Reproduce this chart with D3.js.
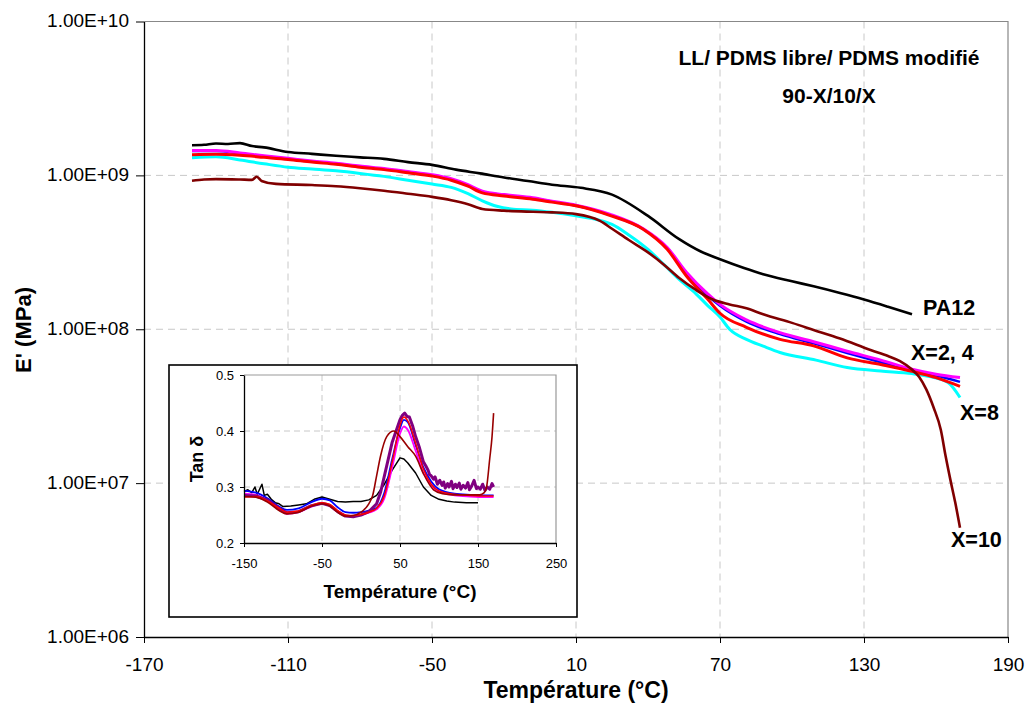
<!DOCTYPE html>
<html><head><meta charset="utf-8">
<script src="https://cdn.jsdelivr.net/npm/d3@7"></script>
<style>body{margin:0;background:#fff} svg{display:block;font-family:"Liberation Sans",Arial,sans-serif}</style>
</head><body><svg id="c" width="1026" height="704"></svg>
<script>
// ---------- main chart data (Temperature °C, E') ----------
const xTicks = [-170,-110,-50,10,70,130,190];
const yTicks = [1e6,1e7,1e8,1e9,1e10];
const yTickLabels = ["1.00E+06","1.00E+07","1.00E+08","1.00E+09","1.00E+10"];

const tBlack = [-150,-145,-140,-135,-130,-125,-120,-110,-100,-90,-80,-70,-60,-50,-40,-30,-20,-10,0,12,25,40,53,62,70,80,88,100,109,120,130,140,150];
const vBlack = [1.57e9,1.58e9,1.61e9,1.60e9,1.62e9,1.55e9,1.52e9,1.42e9,1.38e9,1.34e9,1.31e9,1.28e9,1.22e9,1.17e9,1.09e9,1.03e9,9.7e8,9.2e8,8.7e8,8.3e8,7.5e8,5.45e8,3.85e8,3.2e8,2.85e8,2.5e8,2.28e8,2.05e8,1.9e8,1.72e8,1.56e8,1.4e8,1.25e8];

const tX24 = [-150,-140,-130,-120,-110,-100,-90,-80,-70,-60,-50,-42,-35,-29,-20,-8,0,10,24,38,48,56,65,70,81,95,109,123,137,150,160,170];
const vRed = [1.36e9,1.37e9,1.35e9,1.31e9,1.27e9,1.22e9,1.18e9,1.13e9,1.09e9,1.04e9,9.9e8,9.3e8,8.5e8,7.7e8,7.35e8,7.0e8,6.7e8,6.34e8,5.5e8,4.47e8,3.31e8,2.22e8,1.56e8,1.27e8,1.03e8,8.6e7,7.8e7,6.52e7,5.9e7,5.33e7,4.85e7,4.26e7];
const vMagenta = [1.45e9,1.45e9,1.40e9,1.34e9,1.29e9,1.24e9,1.20e9,1.15e9,1.11e9,1.06e9,1.01e9,9.5e8,8.7e8,7.9e8,7.5e8,7.15e8,6.8e8,6.4e8,5.6e8,4.5e8,3.4e8,2.35e8,1.69e8,1.45e8,1.15e8,9.5e7,8.3e7,7.2e7,6.3e7,5.5e7,5.1e7,4.85e7];
const vBlue = [1.44e9,1.44e9,1.39e9,1.33e9,1.28e9,1.23e9,1.19e9,1.14e9,1.10e9,1.05e9,1.0e9,9.4e8,8.6e8,7.8e8,7.45e8,7.1e8,6.75e8,6.37e8,5.55e8,4.48e8,3.37e8,2.3e8,1.65e8,1.42e8,1.12e8,9.3e7,8.1e7,7.0e7,6.1e7,5.4e7,5.0e7,4.55e7];

const tCyan = [-150,-140,-130,-120,-110,-100,-90,-80,-70,-60,-50,-42,-35,-29,-23,-17,-8,0,10,20,25,32,40,47,53,60,65,70,74,81,88,95,110,123,137,150,158,165,170];
const vCyan = [1.30e9,1.32e9,1.26e9,1.19e9,1.13e9,1.10e9,1.07e9,1.03e9,9.85e8,9.3e8,8.78e8,8.35e8,7.6e8,6.84e8,6.3e8,6.05e8,5.94e8,5.75e8,5.46e8,5.1e8,4.8e8,4.1e8,3.3e8,2.6e8,2.11e8,1.7e8,1.42e8,1.2e8,1.0e8,8.59e7,7.76e7,7.06e7,6.3e7,5.64e7,5.35e7,5.15e7,4.9e7,4.5e7,3.6e7];

const tX10 = [-150,-145,-140,-130,-125,-123,-121,-115,-100,-90,-80,-70,-60,-50,-42,-35,-29,-20,-8,0,10,20,25,32,40,47,53,60,67,74,81,88,100,109,120,133,140,145,150,153,156,159,162,164,166,168,170];
const vX10 = [9.23e8,9.4e8,9.46e8,9.4e8,9.35e8,9.8e8,9.2e8,8.8e8,8.65e8,8.5e8,8.25e8,7.95e8,7.6e8,7.25e8,6.9e8,6.5e8,6.05e8,5.9e8,5.8e8,5.75e8,5.6e8,5.06e8,4.5e8,3.8e8,3.16e8,2.6e8,2.15e8,1.8e8,1.56e8,1.45e8,1.37e8,1.25e8,1.1e8,9.9e7,8.7e7,7.3e7,6.7e7,6.2e7,5.47e7,4.9e7,4.05e7,3.1e7,2.22e7,1.5e7,1.05e7,7.5e6,5.13e6];

// ---------- inset data (Temperature °C, tan delta) ----------
const xiTicks = [-150,-50,50,150,250];
const yiTicks = [0.2,0.3,0.4,0.5];
const yiTickLabels = ["0.2","0.3","0.4","0.5"];

const tiBlack = [-150,-145,-140,-136,-133,-130,-127,-124,-120,-115,-110,-105,-100,-90,-80,-70,-60,-50,-40,-30,-20,-10,0,10,20,30,40,50,55,60,70,80,90,100,110,120,135,150];
const viBlack = [0.292,0.295,0.29,0.3,0.287,0.296,0.305,0.285,0.287,0.278,0.272,0.27,0.265,0.266,0.268,0.27,0.278,0.282,0.278,0.274,0.273,0.274,0.274,0.277,0.285,0.305,0.33,0.352,0.35,0.343,0.325,0.3,0.285,0.278,0.275,0.273,0.272,0.272];
const tiCommon = [-150,-135,-120,-105,-95,-80,-65,-50,-40,-30,-20,-10,0,10,20,30,40,50,55,60,70,80,90,100,120,140,160,170];
const viBlue = [0.293,0.29,0.28,0.265,0.259,0.262,0.272,0.279,0.276,0.264,0.255,0.254,0.255,0.258,0.263,0.29,0.35,0.405,0.42,0.416,0.375,0.335,0.31,0.296,0.288,0.286,0.285,0.285];
const viMagenta = [0.288,0.286,0.276,0.26,0.252,0.255,0.264,0.27,0.267,0.257,0.249,0.248,0.25,0.254,0.26,0.28,0.335,0.395,0.408,0.402,0.365,0.325,0.303,0.292,0.285,0.283,0.282,0.282];
const viRed = [0.282,0.283,0.275,0.262,0.255,0.257,0.266,0.272,0.269,0.258,0.25,0.249,0.251,0.255,0.262,0.285,0.345,0.41,0.425,0.418,0.378,0.332,0.305,0.293,0.287,0.285,0.284,0.284];
const tiPurple = [-150,-135,-120,-105,-95,-80,-65,-50,-40,-30,-20,-10,0,10,20,25,30,40,50,53,56,59,62,66,70,75,80,83,86,88,90,93,95,98,101,104,106,108,111,113,116,118,121,123,126,128,131,134,137,139,142,145,148,150,153,156,159,162,165,168,170];
const viPurple = [0.285,0.284,0.277,0.262,0.254,0.256,0.266,0.271,0.267,0.256,0.248,0.247,0.25,0.256,0.27,0.29,0.32,0.38,0.42,0.428,0.432,0.426,0.425,0.41,0.39,0.37,0.345,0.338,0.33,0.322,0.32,0.314,0.318,0.305,0.312,0.303,0.309,0.298,0.306,0.3,0.31,0.297,0.305,0.299,0.307,0.296,0.303,0.298,0.308,0.295,0.302,0.312,0.297,0.3,0.296,0.305,0.294,0.3,0.296,0.306,0.3];
const tiDark = [-150,-135,-120,-105,-95,-80,-65,-50,-40,-30,-20,-10,0,10,15,20,25,33,42,50,60,70,80,93,105,118,135,152,158,161,165,168,170];
const viDark = [0.283,0.282,0.273,0.258,0.252,0.255,0.265,0.27,0.266,0.255,0.248,0.249,0.255,0.27,0.285,0.32,0.355,0.39,0.4,0.39,0.372,0.355,0.324,0.295,0.288,0.286,0.286,0.286,0.29,0.3,0.35,0.39,0.432];

const zip = (t,v) => t.map((d,i)=>[d,v[i]]);

const mainSeries = [
  {t:tBlack, v:vBlack, c:"#000000", w:2.6},
  {t:tCyan, v:vCyan, c:"#00FFFF", w:3},
  {t:tX24, v:vBlue, c:"#0000FF", w:2.5},
  {t:tX24, v:vMagenta, c:"#FF00FF", w:3},
  {t:tX24, v:vRed, c:"#FF0000", w:3},
  {t:tX10, v:vX10, c:"#800000", w:2.6}
];
const insetSeries = [
  {t:tiBlack, v:viBlack, c:"#000000", w:1.5, lin:true},
  {t:tiCommon, v:viBlue, c:"#0000FF", w:1.8},
  {t:tiCommon, v:viMagenta, c:"#FF00FF", w:1.8},
  {t:tiPurple, v:viPurple, c:"#800080", w:3, lin:true},
  {t:tiCommon, v:viRed, c:"#FF0000", w:1.5},
  {t:tiDark, v:viDark, c:"#990000", w:1.6}
];

const svg = d3.select("#c");
svg.append("rect").attr("width",1026).attr("height",704).attr("fill","#fff");

const x = d3.scaleLinear().domain([-170,190]).range([144,1008]);
const y = d3.scaleLog().domain([1e6,1e10]).range([637,21.5]);

const grid = svg.append("g");
grid.selectAll("line.v").data(xTicks.slice(1,-1)).join("line")
  .attr("x1",d=>x(d)).attr("x2",d=>x(d)).attr("y1",y(1e10)).attr("y2",y(1e6))
  .attr("stroke","#c8c8c8").attr("stroke-dasharray","7,5");
grid.selectAll("line.h").data(yTicks.slice(1,-1)).join("line")
  .attr("x1",x(-170)).attr("x2",x(190)).attr("y1",d=>y(d)).attr("y2",d=>y(d))
  .attr("stroke","#c8c8c8").attr("stroke-dasharray","7,5");
svg.append("path").attr("d",`M${x(-170)},${y(1e10)}H${x(190)}V${y(1e6)}`)
  .attr("fill","none").attr("stroke","#888").attr("stroke-width",1.2);

const line = d3.line().x(d=>x(d[0])).y(d=>y(d[1])).curve(d3.curveMonotoneX);
svg.append("g").selectAll("path").data(mainSeries).join("path")
  .attr("d",s=>line(zip(s.t,s.v))).attr("fill","none")
  .attr("stroke",s=>s.c).attr("stroke-width",s=>s.w).attr("stroke-linejoin","round");

const xa = svg.append("g").attr("transform",`translate(0,${y(1e6)})`)
  .call(d3.axisBottom(x).tickValues(xTicks).tickSize(6).tickSizeOuter(0).tickFormat(d=>String(d)));
xa.selectAll("text").attr("y",34).attr("dy",0).attr("font-size",19).attr("fill","#000")
  .attr("font-family","'Liberation Sans',Arial,sans-serif");
const ya = svg.append("g").attr("transform",`translate(${x(-170)},0)`)
  .call(d3.axisLeft(y).tickValues(yTicks).tickSize(8).tickSizeOuter(0).tickFormat((d,i)=>yTickLabels[i]));
ya.selectAll("text").attr("x",-15).attr("dy","0.28em").attr("font-size",19).attr("fill","#000")
  .attr("font-family","'Liberation Sans',Arial,sans-serif");
[xa,ya].forEach(g=>{g.select(".domain").attr("stroke","#000").attr("stroke-width",1.3);
  g.selectAll(".tick line").attr("stroke","#000");});

svg.append("text").attr("x",576).attr("y",698).attr("text-anchor","middle")
  .attr("font-size",23).attr("font-weight","bold").text("Température (°C)");
svg.append("text").attr("transform","translate(31,330) rotate(-90)").attr("text-anchor","middle")
  .attr("font-size",22).attr("font-weight","bold").text("E' (MPa)");

svg.append("text").attr("x",829).attr("y",65).attr("text-anchor","middle")
  .attr("font-size",21).attr("font-weight","bold").text("LL/ PDMS libre/ PDMS modifié");
svg.append("text").attr("x",829).attr("y",103).attr("text-anchor","middle")
  .attr("font-size",21).attr("font-weight","bold").text("90-X/10/X");
const labs = [["PA12",923,315],["X=2, 4",911,360],["X=8",960,420],["X=10",951,547]];
svg.append("g").selectAll("text").data(labs).join("text")
  .attr("x",d=>d[1]).attr("y",d=>d[2]).attr("font-size",21.5).attr("font-weight","bold").text(d=>d[0]);

// ---------- inset ----------
svg.append("rect").attr("x",169).attr("y",365).attr("width",408).attr("height",252)
  .attr("fill","#fff").attr("stroke","#000").attr("stroke-width",1.6);
const xi = d3.scaleLinear().domain([-150,250]).range([244,556]);
const yi = d3.scaleLinear().domain([0.2,0.5]).range([543,375]);
const gi = svg.append("g");
gi.selectAll("line.v").data(xiTicks.slice(1,-1)).join("line")
  .attr("x1",d=>xi(d)).attr("x2",d=>xi(d)).attr("y1",yi(0.5)).attr("y2",yi(0.2))
  .attr("stroke","#c8c8c8").attr("stroke-dasharray","6,4");
gi.selectAll("line.h").data(yiTicks.slice(1,-1)).join("line")
  .attr("x1",xi(-150)).attr("x2",xi(250)).attr("y1",d=>yi(d)).attr("y2",d=>yi(d))
  .attr("stroke","#c8c8c8").attr("stroke-dasharray","6,4");
gi.append("path").attr("d",`M${xi(-150)},${yi(0.5)}H${xi(250)}V${yi(0.2)}`)
  .attr("fill","none").attr("stroke","#999").attr("stroke-width",1.2);
const lineS = d3.line().x(d=>xi(d[0])).y(d=>yi(d[1])).curve(d3.curveMonotoneX);
const lineL = d3.line().x(d=>xi(d[0])).y(d=>yi(d[1]));
gi.append("g").selectAll("path").data(insetSeries).join("path")
  .attr("d",s=>(s.lin?lineL:lineS)(zip(s.t,s.v))).attr("fill","none")
  .attr("stroke",s=>s.c).attr("stroke-width",s=>s.w).attr("stroke-linejoin","round");
const xia = gi.append("g").attr("transform",`translate(0,${yi(0.2)})`)
  .call(d3.axisBottom(xi).tickValues(xiTicks).tickSize(4).tickSizeOuter(0).tickFormat(d=>String(d)));
xia.selectAll("text").attr("y",25).attr("dy",0).attr("font-size",13).attr("fill","#000")
  .attr("font-family","'Liberation Sans',Arial,sans-serif");
const yia = gi.append("g").attr("transform",`translate(${xi(-150)},0)`)
  .call(d3.axisLeft(yi).tickValues(yiTicks).tickSize(4).tickSizeOuter(0).tickFormat((d,i)=>yiTickLabels[i]));
yia.selectAll("text").attr("x",-10).attr("dy","0.32em").attr("font-size",13).attr("fill","#000")
  .attr("font-family","'Liberation Sans',Arial,sans-serif");
[xia,yia].forEach(g=>{g.select(".domain").attr("stroke","#000").attr("stroke-width",1.3);
  g.selectAll(".tick line").attr("stroke","#000");});
gi.append("text").attr("x",400).attr("y",598).attr("text-anchor","middle")
  .attr("font-size",19).attr("font-weight","bold").text("Température (°C)");
gi.append("text").attr("transform","translate(203,459) rotate(-90)").attr("text-anchor","middle")
  .attr("font-size",18).attr("font-weight","bold").text("Tan δ");
</script></body></html>
